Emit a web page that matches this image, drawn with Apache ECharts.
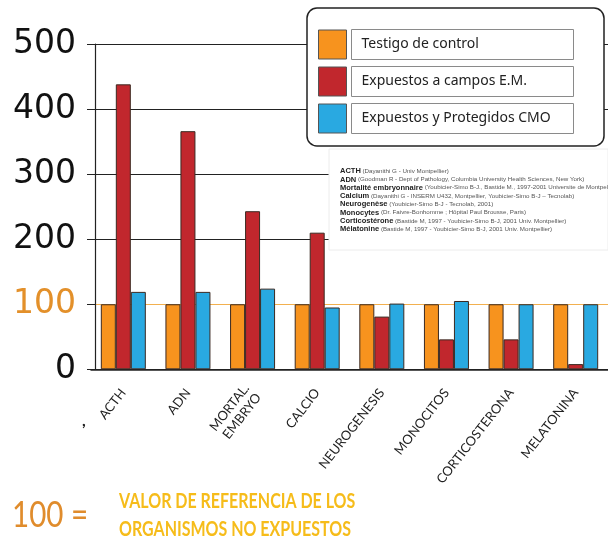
<!DOCTYPE html>
<html><head><meta charset="utf-8">
<script src="https://cdn.jsdelivr.net/npm/echarts/dist/echarts.min.js"></script>
<style>html,body{margin:0;padding:0;background:#fff}#c{width:608px;height:545px}</style>
</head><body><div id="c"></div><script>
const categories = ['ACTH','ADN','MORTAL.\nEMBRYO','CALCIO','NEUROGENESIS','MONOCITOS','CORTICOSTERONA','MELATONINA'];
const seriesNames = ['Testigo de control','Expuestos a campos E.M.','Expuestos y Protegidos CMO'];
const control = [100,100,100,100,100,100,100,100];
const exposed = [438,366,243,210,81,46,46,8];
const protectedCMO = [119,119,124,95,101,105,100,100];
const yTicks = [0,100,200,300,400,500];
const refNames = ['ACTH','ADN','Mortalité embryonnaire','Calcium','Neurogenèse','Monocytes','Corticostérone','Mélatonine'];
const refSources = [
 '(Dayanithi G - Univ Montpellier)',
 '(Goodman R - Dept of Pathology, Columbia University Health Sciences, New York)',
 '(Youbicier-Simo B-J., Bastide M., 1997-2001 Universite de Montpellier)',
 '(Dayanithi G - INSERM U432, Montpellier, Youbicier-Simo B-J – Tecnolab)',
 '(Youbicier-Simo B-J - Tecnolab, 2001)',
 '(Dr. Faivre-Bonhomme ; Hôpital Paul Brousse, Paris)',
 '(Bastide M, 1997 - Youbicier-Simo B-J, 2001 Univ. Montpellier)',
 '(Bastide M, 1997 - Youbicier-Simo B-J, 2001 Univ. Montpellier)'
];
const footNumber = '100 =';
const footLines = ['VALOR DE REFERENCIA DE LOS','ORGANISMOS NO EXPUESTOS'];

const colors = ['#F7931E','#C1272D','#29A9E1'];
const chart = echarts.init(document.getElementById('c'), null, {renderer:'canvas'});
const mk = (name, data, i) => ({
  name, type:'bar', data, barWidth:15, barGap:'0%',
  itemStyle:{color:colors[i], borderColor:'#3b2a22', borderWidth:1}
});
const refText = refNames.map((n,i)=>'{b|'+n+'}{n| '+refSources[i]+'}').join('\n');
chart.setOption({
  animation:false,
  grid:{left:91, right:0, top:44, bottom:175.7, containLabel:false},
  legend:{
    orient:'vertical', left:307, top:8,
    padding:[21,30,12,11],
    backgroundColor:'#fff', borderColor:'#222', borderWidth:1.5, borderRadius:10,
    itemWidth:28, itemHeight:29, itemGap:6, itemTextGap:7, icon:'rect',
    itemStyle:{borderColor:'#555', borderWidth:1},
    textStyle:{fontFamily:'Noto Sans', fontSize:14, color:'#222', width:202, height:30, lineHeight:30,
      padding:[0,10], borderColor:'#8a8a8a', borderWidth:1},
    data:seriesNames
  },
  xAxis:{
    type:'category', data:categories,
    axisLine:{lineStyle:{color:'#222', width:1.5}},
    axisTick:{show:false},
    axisLabel:{rotate:52, margin:21, fontFamily:'Lato', fontSize:13, color:'#222', interval:0, lineHeight:15}
  },
  yAxis:{
    type:'value', min:yTicks[0], max:yTicks[yTicks.length-1], interval:100, offset:-4,
    axisLine:{show:true, lineStyle:{color:'#222', width:1.2}},
    axisTick:{show:true, length:8, lineStyle:{color:'#222'}},
    axisLabel:{margin:19, fontFamily:'DejaVu Sans', fontSize:33,
      color:(v)=> (Number(v)===100 ? '#E3902A' : '#111')},
    splitLine:{show:true, lineStyle:{color:['#222','#F2B04F','#222','#222','#222','#222'], width:1.2}}
  },
  series:[mk(seriesNames[0],control,0), mk(seriesNames[1],exposed,1), mk(seriesNames[2],protectedCMO,2)],
  graphic:[
    {type:'rect', z:100, shape:{x:329,y:149,width:279,height:101}, style:{fill:'#fff', stroke:'#ececec', lineWidth:1}},
    {type:'text', z:101, x:340, y:167, style:{
      text:refText, fill:'#333', fontSize:6, lineHeight:8.3,
      rich:{
        b:{fontFamily:'Liberation Sans', fontWeight:'bold', fontSize:7.5, fill:'#222', lineHeight:8.3},
        n:{fontFamily:'Liberation Sans', fontSize:6.2, fill:'#555', lineHeight:8.3}
      }}},
    {type:'text', x:12, y:497, scaleX:0.8, style:{text:footNumber, fontFamily:'Lato', fontSize:37, fill:'#E08C2C'}},
    {type:'text', x:119, y:492, scaleX:0.8, style:{text:footLines[0], fontFamily:'Lato', fontSize:20, fontWeight:'bold', fill:'#F6BC1A'}},
    {type:'text', x:119, y:520, scaleX:0.8, style:{text:footLines[1], fontFamily:'Lato', fontSize:20, fontWeight:'bold', fill:'#F6BC1A'}},
    {type:'text', x:82, y:413, style:{text:",", fontFamily:'Lato', fontWeight:'bold', fontSize:16, fill:'#222'}}
  ]
});
</script></body></html>
